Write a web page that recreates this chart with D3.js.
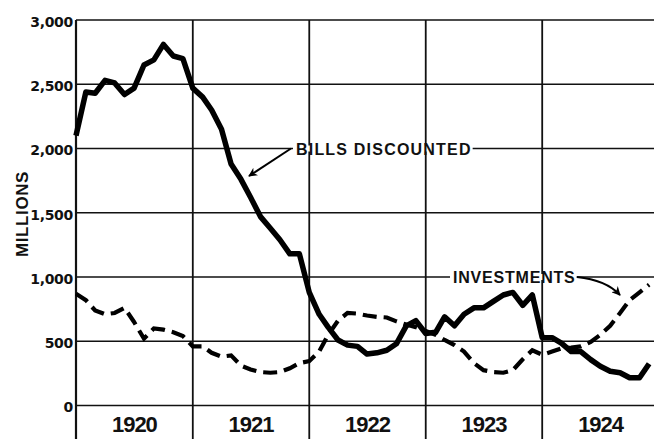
<!DOCTYPE html>
<html>
<head>
  <meta charset="utf-8">
  <title>Bills Discounted and Investments</title>
  <script src="https://d3js.org/d3.v7.min.js"></script>
  <style>
    body { margin: 0; background: #fff; }
    text { fill: #111; }
  </style>
</head>
<body>
  <div id="chart"></div>
  <script>
    // monthly values, millions of dollars, Jan 1920 - Dec 1924
    var years = [1920, 1921, 1922, 1923, 1924];
    var yTicks = [0, 500, 1000, 1500, 2000, 2500, 3000];

    var bills = [
      2100, 2440, 2430, 2530, 2510, 2420, 2470, 2650, 2690, 2810, 2720, 2700,
      2470, 2400, 2300, 2150, 1880, 1760, 1620, 1470, 1380, 1290, 1180, 1180,
      880, 710, 610, 510, 470, 460, 400, 410, 430, 480, 620, 660,
      560, 570, 690, 620, 710, 760, 760, 810, 860, 880, 780, 860,
      528, 528, 485, 420, 420, 357, 305, 266, 255, 216, 216, 325
    ];
    var investments = [
      870, 820, 740, 710, 720, 760, 650, 520, 600, 590, 570, 540,
      460, 460, 410, 380, 390, 310, 280, 260, 255, 260, 290, 330,
      345, 420, 550, 660, 720, 715, 700, 690, 685, 655, 630, 610,
      580, 550, 510, 470, 420, 330, 275, 260, 255, 275, 360, 430,
      395, 420, 445, 450, 460, 495, 550, 620, 720, 820, 880, 940
    ];

    var W = 654, H = 439;
    var marginLeft = 76, marginTop = 20;

    var svg = d3.select("#chart").append("svg")
      .attr("width", W)
      .attr("height", H);

    var month = function (i) { return new Date(1920, i, 1); };

    var x = d3.scaleTime()
      .domain([new Date(1920, 0, 1), new Date(1925, 0, 1)])
      .range([marginLeft, 659]);

    var y = d3.scaleLinear()
      .domain([0, 3000])
      .range([405.5, marginTop]);

    // grid
    svg.append("g").selectAll("line")
      .data(yTicks)
      .enter().append("line")
      .attr("x1", marginLeft).attr("x2", W)
      .attr("y1", function (d) { return y(d); })
      .attr("y2", function (d) { return y(d); })
      .attr("stroke", "#111")
      .attr("stroke-width", 1.6);

    svg.append("g").selectAll("line")
      .data(years)
      .enter().append("line")
      .attr("x1", function (d) { return x(new Date(d, 0, 1)); })
      .attr("x2", function (d) { return x(new Date(d, 0, 1)); })
      .attr("y1", marginTop).attr("y2", H)
      .attr("stroke", "#111")
      .attr("stroke-width", function (d, i) { return i == 0 ? 2.2 : 1.8; });

    // y tick labels
    var yAxis = svg.append("g")
      .attr("transform", "translate(" + (marginLeft - 3) + ",0)")
      .call(d3.axisLeft(y).tickValues(yTicks).tickSize(0).tickPadding(0)
        .tickFormat(d3.format(",")));
    yAxis.select(".domain").remove();
    yAxis.selectAll("text")
      .attr("font-family", "DejaVu Sans")
      .attr("font-weight", "bold")
      .attr("font-size", 14)
      .attr("dy", "0.45em")
      .attr("letter-spacing", -0.3)
      .attr("fill", "#111");

    // year labels
    svg.append("g").selectAll("text")
      .data(years)
      .enter().append("text")
      .attr("x", function (d) { return (x(new Date(d, 0, 1)) + x(new Date(d + 1, 0, 1))) / 2; })
      .attr("y", 432)
      .attr("text-anchor", "middle")
      .attr("font-family", "Liberation Sans")
      .attr("font-weight", "bold")
      .attr("font-size", 22)
      .attr("letter-spacing", -1)
      .text(function (d) { return d; });

    svg.append("text")
      .attr("transform", "translate(24,214) rotate(-90)")
      .attr("text-anchor", "middle")
      .attr("dominant-baseline", "middle")
      .attr("font-family", "Liberation Sans")
      .attr("font-weight", "bold")
      .attr("font-size", 17)
      .attr("letter-spacing", 0.6)
      .text("MILLIONS");

    // lines
    var line = d3.line()
      .x(function (d, i) { return x(month(i)); })
      .y(function (d) { return y(d); });

    svg.append("path")
      .datum(investments)
      .attr("d", line)
      .attr("fill", "none")
      .attr("stroke", "#000")
      .attr("stroke-width", 4.2)
      .attr("stroke-dasharray", "14,7");

    svg.append("path")
      .datum(bills)
      .attr("d", line)
      .attr("fill", "none")
      .attr("stroke", "#000")
      .attr("stroke-width", 5.5)
      .attr("stroke-linejoin", "round");

    // arrowhead
    svg.append("defs").append("marker")
      .attr("id", "arrow")
      .attr("viewBox", "0 0 10 10")
      .attr("refX", 9).attr("refY", 5)
      .attr("markerWidth", 9).attr("markerHeight", 9)
      .attr("markerUnits", "userSpaceOnUse")
      .attr("orient", "auto")
      .append("path")
      .attr("d", "M0,0 L10,5 L0,10 L3,5 Z")
      .attr("fill", "#000");

    // annotations
    function label(txt, x0, yv, spacing) {
      var g = svg.append("g");
      var bg = g.append("rect").attr("fill", "#fff");
      var t = g.append("text")
        .attr("x", x0)
        .attr("y", y(yv) + 6)
        .attr("font-family", "Liberation Sans")
        .attr("font-weight", "bold")
        .attr("font-size", 16)
        .attr("letter-spacing", spacing)
        .text(txt);
      var b = t.node().getBBox();
      bg.attr("x", b.x - 3).attr("y", y(yv) - 3)
        .attr("width", b.width + 4).attr("height", 6);
      return b;
    }

    label("BILLS DISCOUNTED", 296, 2000, 1.2);
    svg.append("path")
      .attr("d", "M291," + y(2000) + " L249,176")
      .attr("fill", "none")
      .attr("stroke", "#000")
      .attr("stroke-width", 2)
      .attr("marker-end", "url(#arrow)");

    label("INVESTMENTS", 453, 1000, 0.8);
    svg.append("path")
      .attr("d", "M577," + y(1000) + " Q606,280 620,295")
      .attr("fill", "none")
      .attr("stroke", "#000")
      .attr("stroke-width", 2)
      .attr("marker-end", "url(#arrow)");
  </script>
</body>
</html>
